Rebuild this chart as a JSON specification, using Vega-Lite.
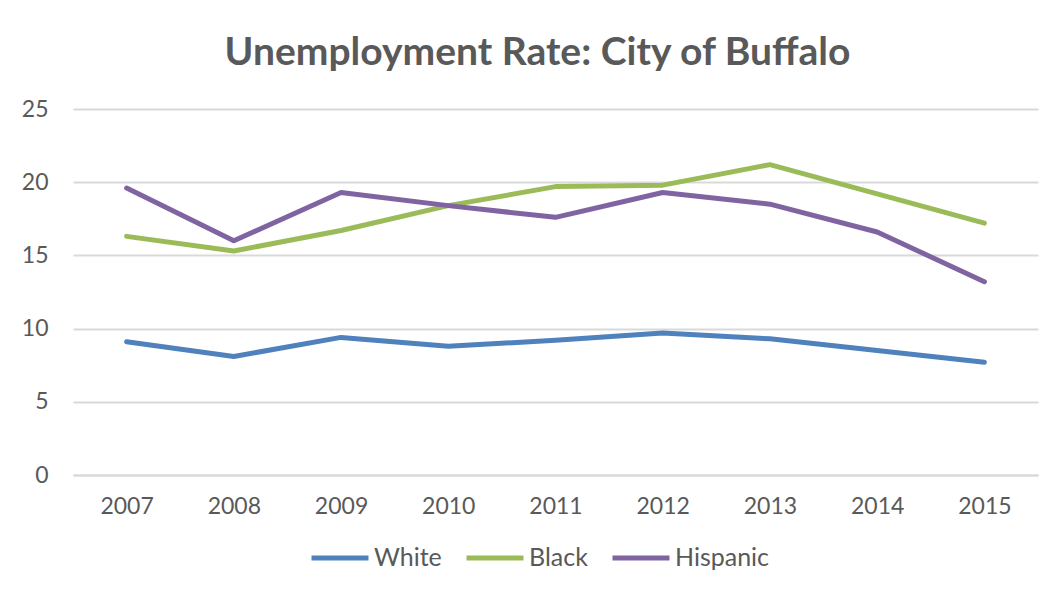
{
  "$schema": "https://vega.github.io/schema/vega-lite/v6.json",
  "width": 965,
  "height": 366,
  "autosize": {"type": "none"},
  "padding": {"left": 73, "top": 109, "right": 19, "bottom": 114},
  "background": "white",
  "title": {
    "text": "Unemployment Rate: City of Buffalo",
    "font": "Lato",
    "fontSize": 39,
    "fontWeight": "bold",
    "color": "#595959",
    "anchor": "middle",
    "frame": "group",
    "dx": -18,
    "offset": 25
  },
  "data": {
    "values": [
      {"year": "2007", "group": "White", "rate": 9.1},
      {"year": "2008", "group": "White", "rate": 8.1},
      {"year": "2009", "group": "White", "rate": 9.4},
      {"year": "2010", "group": "White", "rate": 8.8},
      {"year": "2011", "group": "White", "rate": 9.2},
      {"year": "2012", "group": "White", "rate": 9.7},
      {"year": "2013", "group": "White", "rate": 9.3},
      {"year": "2014", "group": "White", "rate": 8.5},
      {"year": "2015", "group": "White", "rate": 7.7},
      {"year": "2007", "group": "Black", "rate": 16.3},
      {"year": "2008", "group": "Black", "rate": 15.3},
      {"year": "2009", "group": "Black", "rate": 16.7},
      {"year": "2010", "group": "Black", "rate": 18.4},
      {"year": "2011", "group": "Black", "rate": 19.7},
      {"year": "2012", "group": "Black", "rate": 19.8},
      {"year": "2013", "group": "Black", "rate": 21.2},
      {"year": "2014", "group": "Black", "rate": 19.2},
      {"year": "2015", "group": "Black", "rate": 17.2},
      {"year": "2007", "group": "Hispanic", "rate": 19.6},
      {"year": "2008", "group": "Hispanic", "rate": 16.0},
      {"year": "2009", "group": "Hispanic", "rate": 19.3},
      {"year": "2010", "group": "Hispanic", "rate": 18.4},
      {"year": "2011", "group": "Hispanic", "rate": 17.6},
      {"year": "2012", "group": "Hispanic", "rate": 19.3},
      {"year": "2013", "group": "Hispanic", "rate": 18.5},
      {"year": "2014", "group": "Hispanic", "rate": 16.6},
      {"year": "2015", "group": "Hispanic", "rate": 13.2}
    ]
  },
  "mark": {"type": "line", "strokeWidth": 5, "strokeCap": "round", "strokeJoin": "round"},
  "encoding": {
    "x": {
      "field": "year",
      "type": "ordinal",
      "scale": {"type": "point", "padding": 0.5},
      "axis": {
        "title": null,
        "labelAngle": 0,
        "labelFont": "Lato",
        "labelFontSize": 23,
        "labelColor": "#595959",
        "labelPadding": 20,
        "ticks": false,
        "domain": true,
        "domainColor": "#d9d9d9",
        "domainWidth": 2,
        "grid": false
      }
    },
    "y": {
      "field": "rate",
      "type": "quantitative",
      "scale": {"domain": [0, 25]},
      "axis": {
        "title": null,
        "values": [0, 5, 10, 15, 20, 25],
        "labelFont": "Lato",
        "labelFontSize": 23,
        "labelColor": "#595959",
        "labelPadding": 25,
        "ticks": false,
        "domain": false,
        "grid": true,
        "gridColor": "#d9d9d9",
        "gridWidth": 2
      }
    },
    "color": {
      "field": "group",
      "type": "nominal",
      "sort": ["White", "Black", "Hispanic"],
      "scale": {"domain": ["White", "Black", "Hispanic"], "range": ["#4f81bd", "#9bbb59", "#8064a2"]},
      "legend": {
        "title": null,
        "orient": "none",
        "legendX": 236,
        "legendY": 418,
        "direction": "horizontal",
        "symbolType": "stroke",
        "symbolSize": 3249,
        "symbolStrokeWidth": 5,
        "labelFont": "Lato",
        "labelFontSize": 25,
        "labelColor": "#595959",
        "labelOffset": 3,
        "columnPadding": 14
      }
    }
  },
  "config": {"view": {"stroke": null}}
}
